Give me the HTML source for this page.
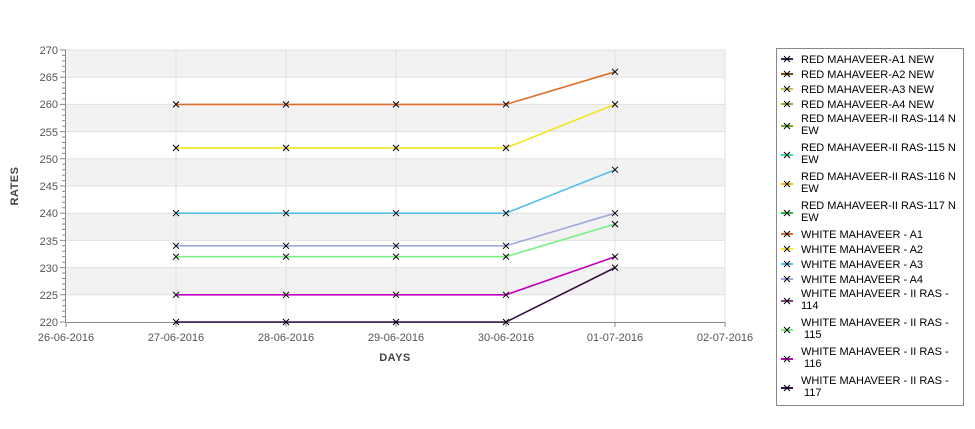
<!DOCTYPE html>
<html><head><style>body{margin:0;background:#fff}svg{display:block;font-family:"Liberation Sans","DejaVu Sans",sans-serif}</style></head>
<body>
<svg width="975" height="429" viewBox="0 0 975 429" xmlns="http://www.w3.org/2000/svg">
<defs><symbol id="m" overflow="visible"><path d="M-3,-3L3,3M-3,3L3,-3" stroke="#000" stroke-width="1"/></symbol></defs>
<g fill="#f2f2f2">
<rect x="66" y="50" width="659" height="27.2"/>
<rect x="66" y="104.4" width="659" height="27.2"/>
<rect x="66" y="158.8" width="659" height="27.2"/>
<rect x="66" y="213.2" width="659" height="27.2"/>
<rect x="66" y="267.6" width="659" height="27.2"/>
</g>
<g stroke="#e0e0e0" stroke-width="1">
<line x1="66" x2="725" y1="50" y2="50"/><line x1="66" x2="725" y1="77.2" y2="77.2"/><line x1="66" x2="725" y1="104.4" y2="104.4"/><line x1="66" x2="725" y1="131.6" y2="131.6"/><line x1="66" x2="725" y1="158.8" y2="158.8"/><line x1="66" x2="725" y1="186" y2="186"/><line x1="66" x2="725" y1="213.2" y2="213.2"/><line x1="66" x2="725" y1="240.4" y2="240.4"/><line x1="66" x2="725" y1="267.6" y2="267.6"/><line x1="66" x2="725" y1="294.8" y2="294.8"/>
<line x1="176" x2="176" y1="50" y2="322"/><line x1="286" x2="286" y1="50" y2="322"/><line x1="396" x2="396" y1="50" y2="322"/><line x1="506" x2="506" y1="50" y2="322"/><line x1="615" x2="615" y1="50" y2="322"/><line x1="725" x2="725" y1="50" y2="322"/>
</g>
<g stroke="#888" stroke-width="1">
<line x1="65.5" x2="65.5" y1="50" y2="322"/><line x1="66" x2="725" y1="322.5" y2="322.5"/>
<path d="M60,50H66M60,77.2H66M60,104.4H66M60,131.6H66M60,158.8H66M60,186H66M60,213.2H66M60,240.4H66M60,267.6H66M60,294.8H66M60,322H66"/>
<path d="M62,55.4H66M62,60.9H66M62,66.3H66M62,71.8H66M62,82.6H66M62,88.1H66M62,93.5H66M62,99H66M62,109.8H66M62,115.3H66M62,120.7H66M62,126.2H66M62,137H66M62,142.5H66M62,147.9H66M62,153.4H66M62,164.2H66M62,169.7H66M62,175.1H66M62,180.6H66M62,191.4H66M62,196.9H66M62,202.3H66M62,207.8H66M62,218.6H66M62,224.1H66M62,229.5H66M62,235H66M62,245.8H66M62,251.3H66M62,256.7H66M62,262.2H66M62,273H66M62,278.5H66M62,283.9H66M62,289.4H66M62,300.2H66M62,305.7H66M62,311.1H66M62,316.6H66"/>
<path d="M66,322V327M176,322V327M286,322V327M396,322V327M506,322V327M615,322V327M725,322V327"/>
</g>
<g font-size="11" fill="#555" text-anchor="end">
<text x="58" y="54">270</text><text x="58" y="81">265</text><text x="58" y="108">260</text><text x="58" y="136">255</text><text x="58" y="163">250</text><text x="58" y="190">245</text><text x="58" y="217">240</text><text x="58" y="245">235</text><text x="58" y="272">230</text><text x="58" y="299">225</text><text x="58" y="326">220</text>
</g>
<g font-size="11" fill="#555" text-anchor="middle">
<text x="66" y="341">26-06-2016</text><text x="176" y="341">27-06-2016</text><text x="286" y="341">28-06-2016</text><text x="396" y="341">29-06-2016</text><text x="506" y="341">30-06-2016</text><text x="615" y="341">01-07-2016</text><text x="725" y="341">02-07-2016</text>
</g>
<text x="395" y="361" font-size="11" font-weight="bold" fill="#444" text-anchor="middle" letter-spacing="0.5">DAYS</text>
<text transform="translate(18,186) rotate(-90)" font-size="11" font-weight="bold" fill="#444" text-anchor="middle" letter-spacing="0.5">RATES</text>
<g fill="none" stroke-width="1.6">
<polyline stroke="#dd6d2c" points="176,104.4 286,104.4 396,104.4 506,104.4 615,71.8"/>
<polyline stroke="#f5e51d" points="176,147.9 286,147.9 396,147.9 506,147.9 615,104.4"/>
<polyline stroke="#55c0e8" points="176,213.2 286,213.2 396,213.2 506,213.2 615,169.7"/>
<polyline stroke="#a0a8e0" points="176,245.8 286,245.8 396,245.8 506,245.8 615,213.2"/>
<polyline stroke="#78f080" points="176,256.7 286,256.7 396,256.7 506,256.7 615,224.1"/>
<polyline stroke="#c000c0" points="176,294.8 286,294.8 396,294.8 506,294.8 615,256.7"/>
<polyline stroke="#3a1048" points="176,322 286,322 396,322 506,322 615,267.6"/>
</g>
<g>
<use href="#m" x="176" y="104.4"/><use href="#m" x="286" y="104.4"/><use href="#m" x="396" y="104.4"/><use href="#m" x="506" y="104.4"/><use href="#m" x="615" y="71.8"/>
<use href="#m" x="176" y="147.9"/><use href="#m" x="286" y="147.9"/><use href="#m" x="396" y="147.9"/><use href="#m" x="506" y="147.9"/><use href="#m" x="615" y="104.4"/>
<use href="#m" x="176" y="213.2"/><use href="#m" x="286" y="213.2"/><use href="#m" x="396" y="213.2"/><use href="#m" x="506" y="213.2"/><use href="#m" x="615" y="169.7"/>
<use href="#m" x="176" y="245.8"/><use href="#m" x="286" y="245.8"/><use href="#m" x="396" y="245.8"/><use href="#m" x="506" y="245.8"/><use href="#m" x="615" y="213.2"/>
<use href="#m" x="176" y="256.7"/><use href="#m" x="286" y="256.7"/><use href="#m" x="396" y="256.7"/><use href="#m" x="506" y="256.7"/><use href="#m" x="615" y="224.1"/>
<use href="#m" x="176" y="294.8"/><use href="#m" x="286" y="294.8"/><use href="#m" x="396" y="294.8"/><use href="#m" x="506" y="294.8"/><use href="#m" x="615" y="256.7"/>
<use href="#m" x="176" y="322"/><use href="#m" x="286" y="322"/><use href="#m" x="396" y="322"/><use href="#m" x="506" y="322"/><use href="#m" x="615" y="267.6"/>
</g>
<rect x="776.5" y="48.5" width="187" height="357" fill="#fff" stroke="#888"/>
<g stroke-width="2">
<line x1="781" x2="793" y1="59" y2="59" stroke="#2a2a55"/>
<line x1="781" x2="793" y1="74" y2="74" stroke="#7a4a10"/>
<line x1="781" x2="793" y1="89" y2="89" stroke="#c8c050"/>
<line x1="781" x2="793" y1="104" y2="104" stroke="#a8a040"/>
<line x1="781" x2="793" y1="126" y2="126" stroke="#70b020"/>
<line x1="781" x2="793" y1="155" y2="155" stroke="#30e8a0"/>
<line x1="781" x2="793" y1="184" y2="184" stroke="#f0c000"/>
<line x1="781" x2="793" y1="213" y2="213" stroke="#20c040"/>
<line x1="781" x2="793" y1="234" y2="234" stroke="#dd6d2c"/>
<line x1="781" x2="793" y1="249" y2="249" stroke="#f5e51d"/>
<line x1="781" x2="793" y1="264" y2="264" stroke="#55c0e8"/>
<line x1="781" x2="793" y1="279" y2="279" stroke="#a0a8e0"/>
<line x1="781" x2="793" y1="301" y2="301" stroke="#804080"/>
<line x1="781" x2="793" y1="330" y2="330" stroke="#78f080"/>
<line x1="781" x2="793" y1="359" y2="359" stroke="#c000c0"/>
<line x1="781" x2="793" y1="388" y2="388" stroke="#3a1048"/>
</g>
<g>
<use href="#m" x="787" y="59"/><use href="#m" x="787" y="74"/><use href="#m" x="787" y="89"/><use href="#m" x="787" y="104"/><use href="#m" x="787" y="126"/><use href="#m" x="787" y="155"/><use href="#m" x="787" y="184"/><use href="#m" x="787" y="213"/><use href="#m" x="787" y="234"/><use href="#m" x="787" y="249"/><use href="#m" x="787" y="264"/><use href="#m" x="787" y="279"/><use href="#m" x="787" y="301"/><use href="#m" x="787" y="330"/><use href="#m" x="787" y="359"/><use href="#m" x="787" y="388"/>
</g>
<g font-size="11" fill="#000">
<text x="801" y="63">RED MAHAVEER-A1 NEW</text>
<text x="801" y="78">RED MAHAVEER-A2 NEW</text>
<text x="801" y="93">RED MAHAVEER-A3 NEW</text>
<text x="801" y="108">RED MAHAVEER-A4 NEW</text>
<text x="801" y="122">RED MAHAVEER-II RAS-114 N</text><text x="801" y="134">EW</text>
<text x="801" y="151">RED MAHAVEER-II RAS-115 N</text><text x="801" y="163">EW</text>
<text x="801" y="180">RED MAHAVEER-II RAS-116 N</text><text x="801" y="192">EW</text>
<text x="801" y="209">RED MAHAVEER-II RAS-117 N</text><text x="801" y="221">EW</text>
<text x="801" y="238">WHITE MAHAVEER - A1</text>
<text x="801" y="253">WHITE MAHAVEER - A2</text>
<text x="801" y="268">WHITE MAHAVEER - A3</text>
<text x="801" y="283">WHITE MAHAVEER - A4</text>
<text x="801" y="297">WHITE MAHAVEER - II RAS -</text><text x="801" y="309"> 114</text>
<text x="801" y="326">WHITE MAHAVEER - II RAS -</text><text x="804" y="338">115</text>
<text x="801" y="355">WHITE MAHAVEER - II RAS -</text><text x="804" y="367">116</text>
<text x="801" y="384">WHITE MAHAVEER - II RAS -</text><text x="804" y="396">117</text>
</g>
</svg>
</body></html>
